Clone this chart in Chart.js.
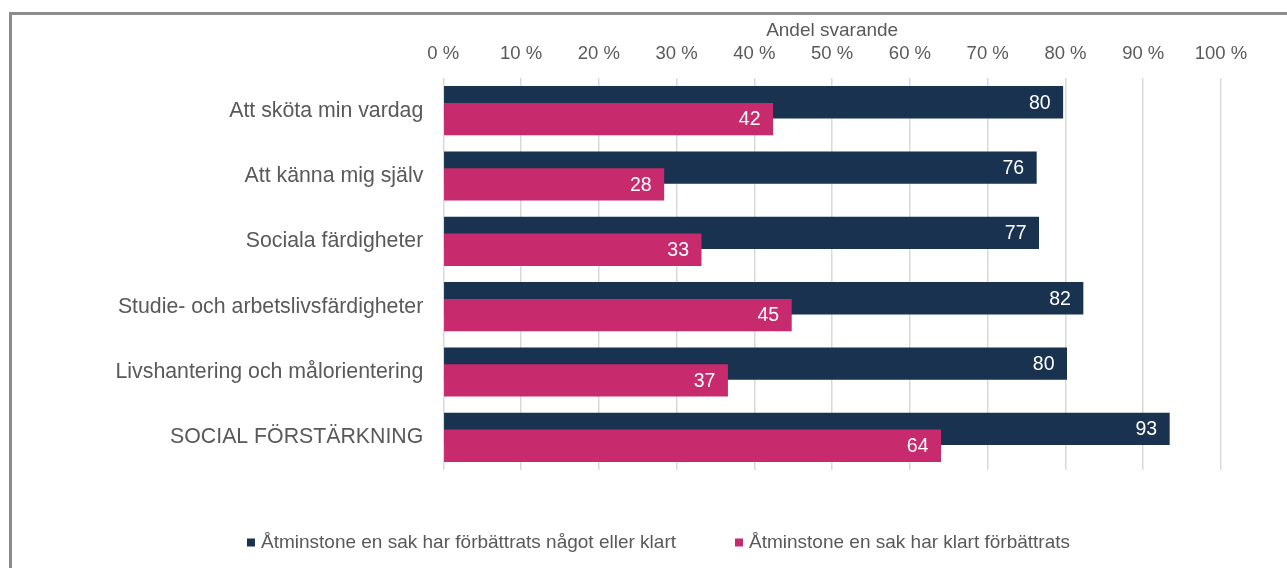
<!DOCTYPE html>
<html>
<head>
<meta charset="utf-8">
<script src="https://cdn.jsdelivr.net/npm/chart.js@4"></script>
<style>
  html, body { margin: 0; padding: 0; background: #fff; overflow: hidden; }
  #wrap { position: relative; width: 1287px; height: 568px; }
  #frame { position: absolute; left: 9px; top: 12px; width: 2000px; height: 2000px;
           border-top: 3px solid #8c8c8c; border-left: 3px solid #8c8c8c; pointer-events: none; }
  canvas { position: absolute; left: 0; top: 0; }
</style>
</head>
<body>
<div id="wrap">
  <canvas id="c" width="1287" height="568"></canvas>
  <div id="frame"></div>
</div>
<script>
const categories = [
  "Att sköta min vardag",
  "Att känna mig själv",
  "Sociala färdigheter",
  "Studie- och arbetslivsfärdigheter",
  "Livshantering och målorientering",
  "SOCIAL FÖRSTÄRKNING"
];
const seriesNames = [
  "Åtminstone en sak har förbättrats något eller klart",
  "Åtminstone en sak har klart förbättrats"
];
const somewhatOrClearly = [79.7, 76.3, 76.6, 82.3, 80.2, 93.4];
const clearly = [42.4, 28.4, 33.2, 44.8, 36.6, 64.0];
const xTicks = [0, 10, 20, 30, 40, 50, 60, 70, 80, 90, 100];
const axisTitle = "Andel svarande";

const NAVY = '#183250';
const PINK = '#c82a6e';
const TEXT = '#595959';
const FONT = "'Liberation Sans', Arial, sans-serif";

const orderPlugin = {
  id: 'orderAndLabels',
  beforeDatasetsDraw(chart) {
    const ctx = chart.ctx;
    [0, 1].forEach(i => chart.getDatasetMeta(i).controller.draw());
    ctx.save();
    ctx.fillStyle = '#ffffff';
    ctx.font = '19.5px ' + FONT;
    ctx.textAlign = 'right';
    ctx.textBaseline = 'middle';
    chart.data.datasets.forEach((ds, di) => {
      chart.getDatasetMeta(di).data.forEach((el, i) => {
        ctx.fillText(String(Math.round(ds.data[i])), el.x - 12.5, el.y + 1);
      });
    });
    ctx.restore();
    return false;
  }
};

const legendPlugin = {
  id: 'customLegend',
  afterDraw(chart) {
    const ctx = chart.ctx;
    ctx.save();
    ctx.font = '19px ' + FONT;
    ctx.textBaseline = 'middle';
    ctx.textAlign = 'left';
    const box = 8, gapText = 6, gapItem = 59;
    const items = chart.data.datasets.map(ds => ({ text: ds.label, color: ds.backgroundColor, w: ctx.measureText(ds.label).width }));
    let total = 0;
    items.forEach((it, i) => { total += box + gapText + it.w + (i ? gapItem : 0); });
    let x = 658.5 - total / 2;
    const y = 543;
    items.forEach((it, i) => {
      if (i) x += gapItem;
      ctx.fillStyle = it.color;
      ctx.fillRect(x, y - box / 2 - 0.5, box, box);
      x += box + gapText;
      ctx.fillStyle = TEXT;
      ctx.fillText(it.text, x, y);
      x += it.w;
    });
    ctx.restore();
  }
};

new Chart(document.getElementById('c'), {
  type: 'bar',
  data: {
    labels: categories,
    datasets: [
      { label: seriesNames[0], data: somewhatOrClearly, backgroundColor: NAVY, borderWidth: 0 },
      { label: seriesNames[1], data: clearly, backgroundColor: PINK, borderWidth: 0 }
    ]
  },
  options: {
    indexAxis: 'y',
    responsive: false,
    animation: false,
    events: [],
    categoryPercentage: 0.515,
    barPercentage: 1.92,
    layout: { padding: { left: 0, right: 66, top: 0, bottom: 98 } },
    plugins: {
      legend: { display: false },
      tooltip: { enabled: false },
      title: { display: false }
    },
    scales: {
      x: {
        position: 'top',
        min: 0, max: 100,
        afterBuildTicks(scale) { scale.ticks = xTicks.map(v => ({ value: v })); },
        afterFit(scale) { scale.height = 78; },
        ticks: {
          callback: v => v + ' %',
          color: TEXT,
          font: { family: FONT, size: 18.5 },
          padding: 13,
          maxRotation: 0,
          autoSkip: false
        },
        grid: { color: '#d9d9d9', lineWidth: 1.5, drawTicks: false },
        border: { display: false },
        title: {
          display: true,
          text: axisTitle,
          color: TEXT,
          font: { family: FONT, size: 19 },
          padding: { top: 19, bottom: 0 }
        }
      },
      y: {
        afterFit(scale) { scale.width = 443.3; },
        ticks: {
          color: TEXT,
          font: { family: FONT, size: 21.3 },
          padding: 12
        },
        grid: { display: false },
        border: { display: false }
      }
    }
  },
  plugins: [orderPlugin, legendPlugin]
});
</script>
</body>
</html>
